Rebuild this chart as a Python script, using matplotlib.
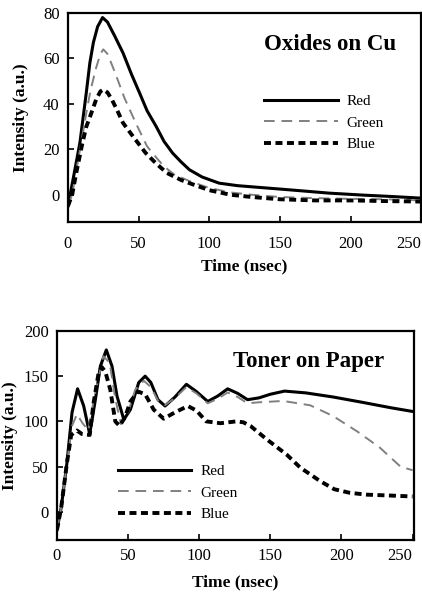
import matplotlib
matplotlib.use("Agg")
import matplotlib.pyplot as plt

# top panel: Oxides on Cu
t_red_cu = [0, 4, 8.5, 13, 15.5, 18, 21, 24.5, 28, 33, 39, 45, 50.7, 56, 62.5, 68, 74, 80, 86, 95, 107, 120, 140, 160, 185, 210, 230, 250]
red_cu = [-5, 8, 23, 45, 58, 67, 74, 78, 76, 70, 62.4, 53, 44.8, 37, 30, 23.5, 18.4, 14.5, 11, 7.8, 5.1, 4, 3, 2, 0.7, -0.2, -0.8, -1.5]
t_green_cu = [0, 3, 6, 10, 13, 16, 20, 23, 25, 28, 33, 40, 48, 56, 63, 68, 75, 86, 100, 115, 130, 150, 175, 200, 225, 250]
green_cu = [-5, 0, 11, 25, 36, 46, 56, 62, 64, 62, 54.3, 42.6, 31.6, 21.3, 16, 12.5, 9, 6, 3, 1, 0, -1, -1.5, -1.8, -2, -2.5]
t_blue_cu = [0, 3, 6, 10, 13, 16, 20, 23, 25, 28, 31, 35, 39, 46, 55, 62, 70, 80, 86, 100, 115, 130, 150, 175, 200, 225, 250]
blue_cu = [-5, 0, 10, 22, 30, 35, 42, 45.5, 46.3, 45, 42, 37, 31.6, 25.7, 18.4, 14, 9.6, 6.5, 5.1, 2, 0, -1, -2, -2.5, -2.5, -2.8, -3]

# bottom panel: Toner on Paper
t_red_tp = [0, 3, 7, 10.6, 14.5, 18.8, 23, 27, 30.5, 34.7, 38.7, 42.2, 47, 51.6, 57.5, 62, 66, 71, 76, 83, 91, 98, 106, 113, 120, 127, 134, 142, 150, 160, 175, 194, 215, 235, 250]
red_tp = [-20, 5, 54, 110, 136, 117, 86, 124, 161, 179, 161, 128, 102, 113, 143, 150, 143, 124, 117, 127, 141, 133, 122, 128, 136, 131, 124, 126, 130, 133.5, 131.5, 127, 121, 115, 111]
t_green_tp = [0, 3, 7, 10.6, 14, 18, 22, 26, 32.6, 37, 41, 45, 50, 55, 61, 66, 71, 76, 83, 91, 98, 106, 113, 120, 127, 134, 141, 159, 178, 194, 211, 227, 241.5, 250]
green_tp = [-20, 5, 54, 95, 108, 98, 90, 125, 172, 165, 125, 97, 110, 135, 145, 138, 123, 118, 126, 138, 131, 120, 125, 132, 127, 120, 121, 122.6, 117.8, 106, 89, 71, 50, 46]
t_blue_tp = [0, 3, 7, 10, 14, 17.6, 23, 25.8, 29.3, 31.5, 34, 37.5, 41, 44, 48, 51.6, 57, 62, 68, 75, 83, 92, 98, 105, 115, 126, 131, 136, 147.6, 161.7, 171, 185, 195, 206, 218, 235, 250]
blue_tp = [-20, 5, 54, 85, 90, 86, 85, 121, 154, 160, 155, 135, 100, 95, 105, 122, 133, 130, 113, 103, 110, 117, 112, 100, 98, 100, 99, 95, 80, 63, 49, 34, 25, 21, 19, 18, 17]

x_ticks = [0, 50, 100, 150, 200, 250]

plt.rcParams['font.family'] = 'Liberation Serif'
plt.rcParams['font.size'] = 11

fig = plt.figure(figsize=(4.22, 5.92), dpi=100)
ax1 = fig.add_axes([0.161, 0.625, 0.837, 0.353])
ax2 = fig.add_axes([0.135, 0.088, 0.846, 0.353])


def style(ax, xpad, xlabpad, ylabpad):
    for s in ax.spines.values():
        s.set_linewidth(1.6)
    ax.tick_params(direction='in', length=4, width=1.2, labelsize=12)
    ax.tick_params(axis='x', pad=xpad)
    ax.tick_params(axis='y', pad=6)
    ax.set_xticks(x_ticks)
    ax.set_xlabel('Time (nsec)', fontweight='bold', fontsize=12.5, labelpad=xlabpad)
    ax.set_ylabel('Intensity (a.u.)', fontweight='bold', fontsize=12.5, labelpad=ylabpad)
    # last tick label sits left of its tick, as in the original
    ax.get_xticklabels()[-1].set_horizontalalignment('right')


ax1.plot(t_red_cu, red_cu, color='black', lw=2.2, label='Red')
ax1.plot(t_green_cu, green_cu, color='0.5', lw=1.4, dashes=(5.5, 3.5), label='Green')
ax1.plot(t_blue_cu, blue_cu, color='black', lw=2.8, dashes=(1.8, 1.15), label='Blue')
ax1.set_xlim(0, 250)
ax1.set_ylim(-12, 80)
ax1.set_yticks([0, 20, 40, 60, 80])
style(ax1, 10, 5, 10)
ax1.text(0.556, 0.847, 'Oxides on Cu', transform=ax1.transAxes, fontsize=16.5,
         fontweight='bold', ha='left', va='center')
ax1.legend(loc='upper left', bbox_to_anchor=(0.556, 0.61), frameon=False,
           borderaxespad=0, borderpad=0, handlelength=4.8, handletextpad=0.6,
           labelspacing=0.5, fontsize=11)

ax2.plot(t_red_tp, red_tp, color='black', lw=2.2, label='Red')
ax2.plot(t_green_tp, green_tp, color='0.5', lw=1.4, dashes=(5.5, 3.5), label='Green')
ax2.plot(t_blue_tp, blue_tp, color='black', lw=2.8, dashes=(1.8, 1.15), label='Blue')
ax2.set_xlim(0, 251)
ax2.set_ylim(-31, 200)
ax2.set_yticks([0, 50, 100, 150, 200])
style(ax2, 6, 7, 4)
ax2.text(0.493, 0.852, 'Toner on Paper', transform=ax2.transAxes, fontsize=16.5,
         fontweight='bold', ha='left', va='center')
ax2.legend(loc='upper left', bbox_to_anchor=(0.171, 0.36), frameon=False,
           borderaxespad=0, borderpad=0, handlelength=4.8, handletextpad=0.6,
           labelspacing=0.5, fontsize=11)

fig.savefig('out.png', dpi=100)
